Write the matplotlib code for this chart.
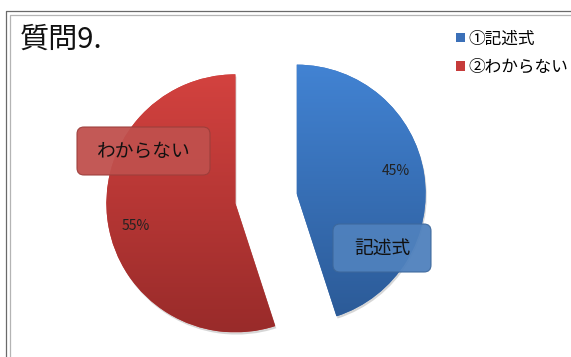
import numpy as np
import matplotlib.pyplot as plt
from matplotlib.patches import FancyBboxPatch, Shadow
from matplotlib.colors import to_rgb

plt.rcParams['font.family'] = ['Noto Sans CJK JP', 'DejaVu Sans']

W, H = 571, 357

title = '質問9.'
categories = ['記述式', 'わからない']
legend_labels = ['①記述式', '②わからない']
shares = [45, 55]

# top / bottom colours of each slice's vertical gradient
grad_top = ['#4283d3', '#d3423f']
grad_bottom = ['#2c5b98', '#992b2a']
legend_colors = ['#3b70b8', '#c63b3a']
box_face = ['#4f81bd', '#c0504d']
box_edge = ['#3d689c', '#9c3e3b']

fig = plt.figure(figsize=(W / 100, H / 100), dpi=100)
ax = fig.add_axes([0, 0, 1, 1])

# pie in pixel units, y pointing up; explode is an offset in the same units
cx, cy, r = 266, H - 198.5, 129
wedges, texts, pcts = ax.pie(
    shares, explode=[31, 31], startangle=90, counterclock=False,
    center=(cx, cy), radius=r, colors=legend_colors, frame=True,
    autopct=lambda p: f'{p:.0f}%', pctdistance=0.79,
    wedgeprops=dict(linewidth=0),
    textprops=dict(fontsize=10, color='#222222'))

for i, w in enumerate(wedges):
    sh = Shadow(w, 0.8, -1.6, facecolor='0.55', edgecolor='none', alpha=0.35)
    sh.set_zorder(w.get_zorder() - 0.2)
    ax.add_patch(sh)
    x0, y0, x1, y1 = w.get_path().get_extents().extents
    g = np.linspace(0, 1, 256)[:, None, None]
    img = (1 - g) * np.array(to_rgb(grad_top[i])) + g * np.array(to_rgb(grad_bottom[i]))
    im = ax.imshow(img, extent=(x0, x1, y0, y1), origin='upper', aspect='auto',
                   interpolation='bilinear', zorder=w.get_zorder() + 0.1)
    im.set_clip_path(w)

# percentage labels sit a little counter-clockwise of the slice middle
for w, t in zip(wedges, pcts):
    ang = np.deg2rad((w.theta1 + w.theta2) / 2 + 4)
    wx, wy = w.center
    t.set_position((wx + 0.79 * r * np.cos(ang), wy + 0.79 * r * np.sin(ang)))
    t.set_zorder(5)

# category call-outs
label_xy = [(382, H - 248), (143.5, H - 151)]
box_w = [98, 133]
box_h = 48
for i, name in enumerate(categories):
    x, y = label_xy[i]
    box = FancyBboxPatch((x - box_w[i] / 2, y - box_h / 2), box_w[i], box_h,
                         boxstyle='round,pad=0,rounding_size=7',
                         fc=box_face[i], ec=box_edge[i], lw=0.8, alpha=0.95, zorder=6)
    ax.add_patch(box)
    ax.text(x, y, name, ha='center', va='center', fontsize=13.5, color='#111111', zorder=7)

ax.text(20, H - 40, title, ha='left', va='center', fontsize=21, color='#111111')

ax.legend(wedges, legend_labels, loc='upper left', bbox_to_anchor=(448, H - 22),
          bbox_transform=ax.transData, frameon=False, fontsize=12,
          handlelength=0.5, handleheight=0.5, handletextpad=0.25,
          labelspacing=0.7, borderpad=0)

# chart area frame
ax.plot([5.5, 5.5, W], [0, H - 10.5, H - 10.5], color='#6a6a6a', lw=0.9)
ax.plot([9.5, 9.5, W], [0, H - 14.5, H - 14.5], color='#b4b4b4', lw=0.9)

ax.set_xlim(0, W)
ax.set_ylim(0, H)
ax.axis('off')

fig.savefig('out.png', dpi=100)
